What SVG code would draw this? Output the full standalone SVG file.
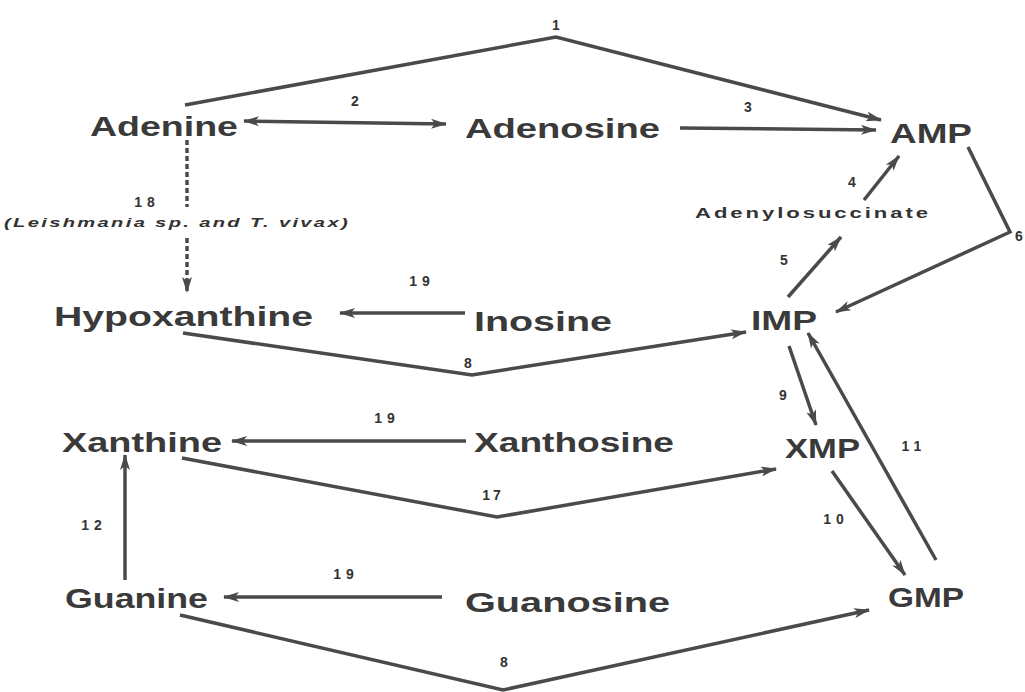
<svg xmlns="http://www.w3.org/2000/svg" width="1025" height="692" viewBox="0 0 1025 692">
<style>
.n{font-family:"Liberation Sans",Arial,sans-serif;font-weight:bold;font-size:28px;fill:#3a3a3a}
.s{font-family:"Liberation Sans",Arial,sans-serif;font-weight:bold;font-size:15px;fill:#333;letter-spacing:2px}
.l{font-family:"Liberation Sans",Arial,sans-serif;font-weight:bold;font-size:14px;fill:#333;text-anchor:middle}
.it{font-family:"Liberation Sans",Arial,sans-serif;font-weight:bold;font-style:italic;font-size:13px;fill:#333;letter-spacing:1.5px}
.c{fill:none;stroke:#4a4a4a;stroke-width:3.5;stroke-linejoin:miter}
.d{fill:none;stroke:#4a4a4a;stroke-width:3.5;stroke-dasharray:5 3}
</style>
<defs>
<marker id="ah" viewBox="0 0 16 10" refX="15" refY="5" markerWidth="16" markerHeight="10" orient="auto-start-reverse" markerUnits="userSpaceOnUse">
<path d="M0,0 L16,5 L0,10 L4,5 z" fill="#4a4a4a"/>
</marker>
</defs>
<rect width="1025" height="692" fill="#fff"/>
<g id="connectors">
<path class="c" d="M185,105 L556,37 L881,120" marker-end="url(#ah)"/>
<path class="c" d="M244,121 L446,124" marker-start="url(#ah)" marker-end="url(#ah)"/>
<path class="c" d="M680,128 L876,130" marker-end="url(#ah)"/>
<path class="c" d="M864,200 L899,156" marker-end="url(#ah)"/>
<path class="c" d="M788,297 L841,237" marker-end="url(#ah)"/>
<path class="c" d="M968,147 L1010,232 L836,312" marker-end="url(#ah)"/>
<path class="d" d="M187,140 L187,207"/>
<path class="d" d="M187,238 L187,292" marker-end="url(#ah)"/>
<path class="c" d="M465,313 L340,313" marker-end="url(#ah)"/>
<path class="c" d="M183,333 L472,375 L746,332" marker-end="url(#ah)"/>
<path class="c" d="M789,346 L816,425" marker-end="url(#ah)"/>
<path class="c" d="M936,560 L808,333" marker-end="url(#ah)"/>
<path class="c" d="M832,471 L905,575" marker-end="url(#ah)"/>
<path class="c" d="M466,441 L232,441" marker-end="url(#ah)"/>
<path class="c" d="M182,458 L497,517 L776,469" marker-end="url(#ah)"/>
<path class="c" d="M125,580 L125,455" marker-end="url(#ah)"/>
<path class="c" d="M442,597 L224,597" marker-end="url(#ah)"/>
<path class="c" d="M180,615 L503,690 L869,610" marker-end="url(#ah)"/>
</g>
<g id="n-adenine"><text class="n" x="90" y="136" textLength="148" lengthAdjust="spacingAndGlyphs">Adenine</text></g>
<g id="n-adenosine"><text class="n" x="465" y="138" textLength="195" lengthAdjust="spacingAndGlyphs">Adenosine</text></g>
<g id="n-amp"><text class="n" x="890" y="143" textLength="82" lengthAdjust="spacingAndGlyphs">AMP</text></g>
<g id="n-adenylosuccinate"><text class="s" x="695" y="218" textLength="236" lengthAdjust="spacingAndGlyphs">Adenylosuccinate</text></g>
<g id="n-imp"><text class="n" x="751" y="330" textLength="66" lengthAdjust="spacingAndGlyphs">IMP</text></g>
<g id="n-hypoxanthine"><text class="n" x="54" y="326" textLength="259" lengthAdjust="spacingAndGlyphs">Hypoxanthine</text></g>
<g id="n-inosine"><text class="n" x="474" y="331" textLength="138" lengthAdjust="spacingAndGlyphs">Inosine</text></g>
<g id="n-xanthine"><text class="n" x="62" y="452" textLength="160" lengthAdjust="spacingAndGlyphs">Xanthine</text></g>
<g id="n-xanthosine"><text class="n" x="474" y="452" textLength="200" lengthAdjust="spacingAndGlyphs">Xanthosine</text></g>
<g id="n-xmp"><text class="n" x="785" y="458" textLength="75" lengthAdjust="spacingAndGlyphs">XMP</text></g>
<g id="n-guanine"><text class="n" x="65" y="608" textLength="143" lengthAdjust="spacingAndGlyphs">Guanine</text></g>
<g id="n-guanosine"><text class="n" x="465" y="612" textLength="205" lengthAdjust="spacingAndGlyphs">Guanosine</text></g>
<g id="n-gmp"><text class="n" x="888" y="607" textLength="76" lengthAdjust="spacingAndGlyphs">GMP</text></g>
<g id="labels">
<text class="l" x="556" y="30">1</text>
<text class="l" x="355" y="106">2</text>
<text class="l" x="748" y="112">3</text>
<text class="l" x="852" y="187">4</text>
<text class="l" x="784" y="265">5</text>
<text class="l" x="1019" y="241">6</text>
<text class="l" x="147" y="207" letter-spacing="5">18</text>
<text class="it" x="4" y="227" textLength="346" lengthAdjust="spacingAndGlyphs">(Leishmania sp. and T. vivax)</text>
<text class="l" x="422" y="286" letter-spacing="5">19</text>
<text class="l" x="468" y="368">8</text>
<text class="l" x="783" y="400">9</text>
<text class="l" x="914" y="451" letter-spacing="5">11</text>
<text class="l" x="387" y="423" letter-spacing="5">19</text>
<text class="l" x="493" y="500" letter-spacing="3">17</text>
<text class="l" x="836" y="524" letter-spacing="5">10</text>
<text class="l" x="94" y="530" letter-spacing="5">12</text>
<text class="l" x="346" y="579" letter-spacing="5">19</text>
<text class="l" x="504" y="667">8</text>
</g>
</svg>
